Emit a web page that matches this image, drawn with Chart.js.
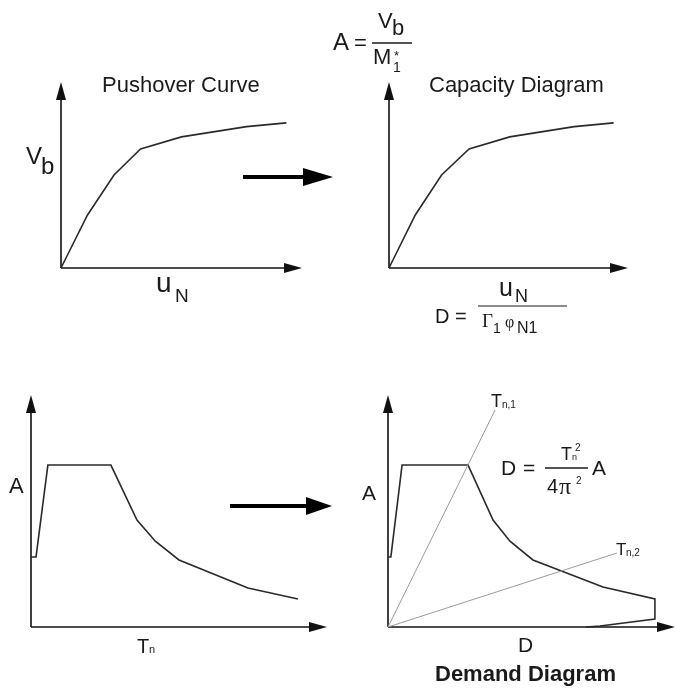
<!DOCTYPE html>
<html>
<head>
<meta charset="utf-8">
<script src="https://cdn.jsdelivr.net/npm/chart.js@4"></script>
<style>
  body { margin: 0; background: #fff; }
  #page { position: relative; width: 676px; height: 693px; overflow: hidden; background: #fff; }
  #page canvas { position: absolute; }
  #overlay { position: absolute; left: 0; top: 0; }
  #overlay text { font-family: "Liberation Sans", Arial, sans-serif; fill: #1a1a1a; }
  #overlay .serif { font-family: "Liberation Serif", "Times New Roman", serif; }
</style>
</head>
<body>
<div id="page">
  <canvas id="pushoverChart" width="330" height="230" style="left:0;top:60px"></canvas>
  <canvas id="capacityChart" width="330" height="230" style="left:340px;top:60px"></canvas>
  <canvas id="spectrumChart" width="340" height="270" style="left:0;top:380px"></canvas>
  <canvas id="demandChart" width="336" height="270" style="left:340px;top:380px"></canvas>

  <svg id="overlay" width="676" height="693">
    <!-- titles -->
    <text x="102" y="92" font-size="22">Pushover Curve</text>
    <text x="429" y="92" font-size="22">Capacity Diagram</text>
    <text x="435" y="681" font-size="22" font-weight="bold">Demand Diagram</text>

    <!-- pushover axis labels -->
    <text x="26" y="164" font-size="24">V</text>
    <text x="41" y="174" font-size="24">b</text>
    <text x="156" y="292" font-size="28">u</text>
    <text x="175" y="302" font-size="19">N</text>

    <!-- A = Vb / M1* -->
    <text x="333" y="50" font-size="24">A</text>
    <text x="354" y="50" font-size="22">=</text>
    <line x1="372" y1="43" x2="412" y2="43" stroke="#1a1a1a" stroke-width="1.5"/>
    <text x="378" y="28" font-size="22">V</text>
    <text x="392" y="35" font-size="22">b</text>
    <text x="373" y="64" font-size="22">M</text>
    <text x="393" y="72" font-size="14">1</text>
    <text x="394" y="60" font-size="13">*</text>

    <!-- D = uN / (Gamma1 phiN1) -->
    <text x="435" y="323" font-size="20">D</text>
    <text x="455" y="323" font-size="20">=</text>
    <line x1="478" y1="306" x2="567" y2="306" stroke="#1a1a1a" stroke-width="1.2"/>
    <text x="499" y="296" font-size="25">u</text>
    <text x="515" y="302" font-size="18">N</text>
    <text x="482" y="327" font-size="19" class="serif">Γ</text>
    <text x="493" y="333" font-size="14">1</text>
    <text x="505" y="327" font-size="16" class="serif">φ</text>
    <text x="517" y="333" font-size="16">N1</text>

    <!-- spectrum labels -->
    <text x="9" y="493" font-size="22">A</text>
    <text x="137" y="653" font-size="20">T</text>
    <text x="149" y="653" font-size="11">n</text>

    <!-- demand diagram labels -->
    <text x="362" y="500" font-size="21">A</text>
    <text x="518" y="652" font-size="21">D</text>
    <text x="491" y="407" font-size="18">T</text>
    <text x="502" y="408" font-size="10">n,1</text>
    <text x="616" y="555" font-size="17">T</text>
    <text x="626" y="556" font-size="10">n,2</text>

    <!-- D = Tn^2 / (4 pi^2) A -->
    <text x="501" y="475" font-size="21">D</text>
    <text x="523" y="475" font-size="21">=</text>
    <line x1="545" y1="468" x2="588" y2="468" stroke="#1a1a1a" stroke-width="1.3"/>
    <text x="561" y="460" font-size="18">T</text>
    <text x="572" y="460" font-size="9">n</text>
    <text x="575" y="451" font-size="10">2</text>
    <text x="547" y="493" font-size="20">4</text>
    <text x="559" y="494" font-size="24" class="serif">π</text>
    <text x="576" y="484" font-size="10">2</text>
    <text x="592" y="475" font-size="21">A</text>

    <!-- transformation arrows -->
    <line x1="243" y1="177" x2="305" y2="177" stroke="#000" stroke-width="4"/>
    <polygon points="303,168 333,177 303,186" fill="#000"/>
    <line x1="230" y1="506" x2="308" y2="506" stroke="#000" stroke-width="4"/>
    <polygon points="306,497 332,506 306,515" fill="#000"/>
  </svg>
</div>

<script>
// Pushover curve: roof displacement u_N vs base shear V_b (arbitrary units 0-10)
const pushoverU = [0, 1.1, 2.2, 3.3, 5.0, 7.7, 9.35];
const pushoverV = [0, 2.85, 5.0, 6.4, 7.05, 7.6, 7.8];

// Capacity diagram: D = u_N / (Γ1 φN1), A = V_b / M1*
const capacityD = [0, 1.1, 2.2, 3.35, 5.05, 7.75, 9.4];
const capacityA = [0, 2.85, 5.0, 6.4, 7.05, 7.6, 7.8];

// Elastic design spectrum: period T_n vs pseudo-acceleration A
const spectrumT = [0, 0.17, 0.57, 2.7, 3.58, 4.2, 5.0, 7.33, 9.02];
const spectrumA = [3.02, 3.02, 6.98, 6.98, 4.61, 3.7, 2.89, 1.68, 1.21];

// Demand diagram (A-D format)
const demandD = [0, 0.1, 0.49, 2.79, 3.66, 4.25, 5.05, 7.49, 9.3, 9.3, 7.39, 6.9];
const demandA = [3.02, 3.02, 6.98, 6.98, 4.61, 3.7, 2.89, 1.72, 1.21, 0.34, 0.04, 0];

// radial period lines T_n,1 and T_n,2
const period1D = [0, 3.73];
const period1A = [0, 9.35];
const period2D = [0, 7.98];
const period2A = [0, 3.19];

const toPoints = (xs, ys) => xs.map((x, i) => ({ x: x, y: ys[i] }));

// axes with arrow heads, drawn from the chart scales
const arrowAxes = {
  id: 'arrowAxes',
  beforeDatasetsDraw(chart) {
    const { ctx, scales: { x, y } } = chart;
    const x0 = x.getPixelForValue(x.min), x1 = x.getPixelForValue(x.max);
    const y0 = y.getPixelForValue(y.min), y1 = y.getPixelForValue(y.max);
    const len = 18, half = 5;
    ctx.save();
    ctx.strokeStyle = '#111';
    ctx.fillStyle = '#111';
    ctx.lineWidth = 1.6;
    ctx.beginPath();
    ctx.moveTo(x0, y0); ctx.lineTo(x1 - len + 2, y0);
    ctx.moveTo(x0, y0); ctx.lineTo(x0, y1 + len - 2);
    ctx.stroke();
    ctx.beginPath();
    ctx.moveTo(x1, y0); ctx.lineTo(x1 - len, y0 - half); ctx.lineTo(x1 - len, y0 + half);
    ctx.closePath(); ctx.fill();
    ctx.beginPath();
    ctx.moveTo(x0, y1); ctx.lineTo(x0 - half, y1 + len); ctx.lineTo(x0 + half, y1 + len);
    ctx.closePath(); ctx.fill();
    ctx.restore();
  }
};

function curve(xs, ys, color, width) {
  return {
    data: toPoints(xs, ys),
    borderColor: color,
    borderWidth: width,
    pointRadius: 0,
    tension: 0,
    fill: false,
    clip: false
  };
}

function makeChart(id, datasets, padding) {
  return new Chart(document.getElementById(id), {
    type: 'line',
    data: { datasets: datasets },
    options: {
      responsive: false,
      animation: false,
      events: [],
      layout: { padding: padding },
      scales: {
        x: { type: 'linear', min: 0, max: 10, display: false },
        y: { type: 'linear', min: 0, max: 10, display: false }
      },
      plugins: { legend: { display: false }, tooltip: { enabled: false } }
    },
    plugins: [arrowAxes]
  });
}

makeChart('pushoverChart',
  [curve(pushoverU, pushoverV, '#2a2a2a', 1.6)],
  { left: 61, right: 28, top: 22, bottom: 22 });

makeChart('capacityChart',
  [curve(capacityD, capacityA, '#2a2a2a', 1.6)],
  { left: 49, right: 42, top: 22, bottom: 22 });

makeChart('spectrumChart',
  [curve(spectrumT, spectrumA, '#2a2a2a', 1.6)],
  { left: 31, right: 13, top: 15, bottom: 23 });

makeChart('demandChart',
  [
    curve(period1D, period1A, '#9a9a9a', 1),
    curve(period2D, period2A, '#9a9a9a', 1),
    curve(demandD, demandA, '#2a2a2a', 1.6)
  ],
  { left: 48, right: 1, top: 15, bottom: 23 });
</script>
</body>
</html>
